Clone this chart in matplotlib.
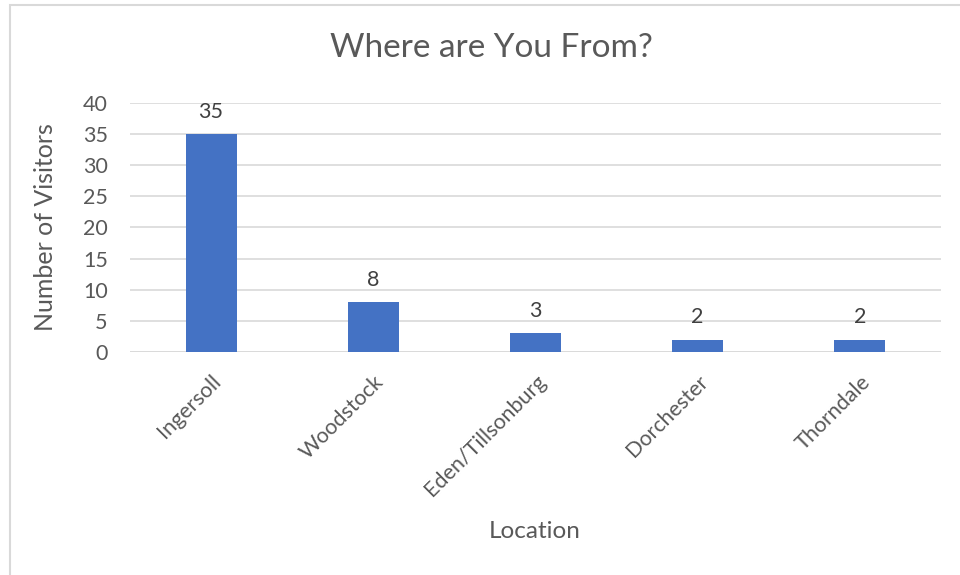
import matplotlib.pyplot as plt
from matplotlib.patches import Rectangle

locations = ["Ingersoll", "Woodstock", "Eden/Tillsonburg", "Dorchester", "Thorndale"]
visitors = [35, 8, 3, 2, 2]
yticks = [0, 5, 10, 15, 20, 25, 30, 35, 40]

plt.rcParams['font.family'] = ['Lato', 'DejaVu Sans']
text_color = '#595959'
bar_color = '#4472C4'
grid_color = '#D9D9D9'

fig = plt.figure(figsize=(9.6, 5.75), dpi=100)
ax = fig.add_axes([0.1354, 0.3878, 0.8446, 0.4331])

# chart frame (only left and top edges fall inside the canvas)
fig.patches.append(Rectangle((10 / 960, -0.1), 1.2, 1 - 5 / 575 + 0.1,
                             transform=fig.transFigure, fill=False,
                             edgecolor=grid_color, linewidth=1.5))

x = range(len(locations))
bars = ax.bar(x, visitors, width=0.315, color=bar_color, zorder=3)
for b, v in zip(bars, visitors):
    ax.text(b.get_x() + b.get_width() / 2, v + 2.6, str(v), ha='center', va='baseline',
            fontsize=15.5, color='#404040')

ax.set_xlim(-0.5, len(locations) - 0.5)
ax.set_ylim(0, 40)
ax.set_yticks(yticks)
ax.yaxis.grid(True, color=grid_color, linewidth=1.2, zorder=0)
for s in ax.spines.values():
    s.set_visible(False)
ax.axhline(0, color=grid_color, linewidth=1.2, zorder=2)
ax.tick_params(axis='both', length=0, labelsize=15.5, labelcolor=text_color)
ax.tick_params(axis='y', pad=16)
ax.set_xticks(list(x))
ax.set_xticklabels(locations, rotation=45, ha='right', rotation_mode='anchor')
ax.tick_params(axis='x', pad=14)

ax.set_ylabel("Number of Visitors", fontsize=18, color=text_color)
ax.yaxis.set_label_coords(-0.09, 0.5)
fig.text(535 / 960, 1 - 531 / 575, "Location", ha='center', va='center',
         fontsize=17.5, color=text_color)
fig.text(491 / 960, 1 - 48 / 575, "Where are You From?", ha='center', va='center',
         fontsize=24, color=text_color)

fig.savefig("out.png", dpi=100)
